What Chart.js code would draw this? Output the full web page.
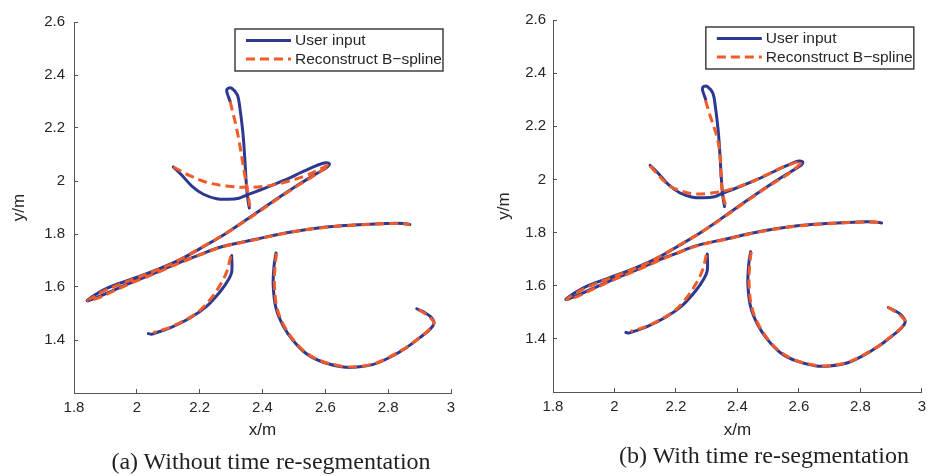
<!DOCTYPE html>
<html>
<head>
<meta charset="utf-8">
<script src="https://cdn.jsdelivr.net/npm/chart.js@4/dist/chart.umd.min.js"></script>
<style>
  body { margin: 0; background: #fff; }
  #wrap { position: relative; width: 936px; height: 476px; overflow: hidden; }
  canvas { position: absolute; top: 0; }
  .caption {
    position: absolute; text-align: center; color: #231f20;
    font: 24px/1 "Liberation Serif", "Times New Roman", serif; white-space: nowrap;
  }
</style>
</head>
<body>
<div id="wrap">
  <canvas id="chartA" width="468" height="476" style="left:0"></canvas>
  <canvas id="chartB" width="468" height="476" style="left:468px"></canvas>
  <div class="caption" style="left:71px; width:400px; top:449px">(a) Without time re-segmentation</div>
  <div class="caption" style="left:564px; width:400px; top:443px">(b) With time re-segmentation</div>
</div>
<script>
// stroke samples of the handwritten character, [x, y] in metres
const userVertical = [[2.297, 2.300], [2.286, 2.340], [2.291, 2.350], [2.302, 2.350], [2.320, 2.325],
  [2.328, 2.276], [2.337, 2.189], [2.342, 2.115], [2.347, 2.016], [2.352, 1.942], [2.358, 1.898]];
const userTopArc = [[2.116, 2.053], [2.143, 2.022], [2.175, 1.981], [2.212, 1.950], [2.254, 1.933],
  [2.290, 1.931], [2.325, 1.935], [2.352, 1.948], [2.402, 1.970], [2.466, 2.001], [2.530, 2.036],
  [2.572, 2.058], [2.600, 2.069], [2.613, 2.065], [2.603, 2.050]];
const userSweep = [[2.572, 2.028], [2.509, 1.982], [2.445, 1.932], [2.371, 1.872], [2.286, 1.804],
  [2.201, 1.745], [2.137, 1.703], [2.074, 1.670], [1.989, 1.632], [1.904, 1.595], [1.861, 1.566],
  [1.842, 1.548], [1.875, 1.562], [1.915, 1.582], [1.989, 1.620], [2.074, 1.661], [2.137, 1.693],
  [2.201, 1.722], [2.265, 1.750], [2.371, 1.778], [2.477, 1.805], [2.583, 1.824], [2.689, 1.834],
  [2.795, 1.840], [2.848, 1.840], [2.869, 1.836]];
const userLeftFall = [[2.302, 1.719], [2.302, 1.657], [2.291, 1.626], [2.265, 1.582], [2.222, 1.527],
  [2.169, 1.483], [2.106, 1.446], [2.063, 1.428], [2.047, 1.422], [2.037, 1.424]];
const userRightCurve = [[2.443, 1.728], [2.437, 1.682], [2.434, 1.607], [2.443, 1.520], [2.466, 1.453],
  [2.498, 1.397], [2.541, 1.347], [2.593, 1.316], [2.657, 1.298], [2.700, 1.298], [2.753, 1.308],
  [2.806, 1.335], [2.859, 1.372], [2.901, 1.409], [2.933, 1.440], [2.946, 1.465], [2.933, 1.490],
  [2.912, 1.506], [2.891, 1.518]];

// reconstructed B-spline, without re-segmentation
const splineVerticalA = [[2.297, 2.300], [2.316, 2.207], [2.328, 2.133], [2.341, 2.040], [2.350, 1.979], [2.360, 1.902]];
const splineTopArcA = [[2.116, 2.053], [2.169, 2.020], [2.222, 1.995], [2.286, 1.981], [2.350, 1.976],
  [2.413, 1.981], [2.477, 1.997], [2.541, 2.022], [2.583, 2.045], [2.613, 2.063]];
// reconstructed B-spline, with re-segmentation
const splineVerticalB = [[2.296, 2.298], [2.312, 2.237], [2.333, 2.162], [2.344, 2.088], [2.347, 2.001], [2.352, 1.946], [2.362, 1.900]];
const splineTopArcB = [[2.116, 2.051], [2.171, 1.983], [2.203, 1.962], [2.256, 1.946], [2.309, 1.948],
  [2.362, 1.958], [2.436, 1.986], [2.500, 2.020], [2.563, 2.053], [2.608, 2.066]];
// strokes that come out the same either way
const splineSweep = [[2.572, 2.026], [2.509, 1.980], [2.445, 1.930], [2.371, 1.870], [2.286, 1.804],
  [2.201, 1.746], [2.137, 1.703], [2.074, 1.668], [1.989, 1.630], [1.904, 1.590], [1.861, 1.562],
  [1.845, 1.548], [1.880, 1.560], [1.915, 1.579], [1.989, 1.618], [2.074, 1.659], [2.137, 1.691],
  [2.201, 1.721], [2.265, 1.749], [2.371, 1.777], [2.477, 1.804], [2.583, 1.823], [2.689, 1.833],
  [2.795, 1.839], [2.848, 1.839], [2.869, 1.835]];
const splineLeftFall = [[2.299, 1.716], [2.286, 1.657], [2.265, 1.607], [2.233, 1.552], [2.191, 1.502],
  [2.137, 1.465], [2.095, 1.443], [2.052, 1.428]];
const splineRightCurve = [[2.445, 1.728], [2.440, 1.680], [2.438, 1.607], [2.446, 1.522], [2.468, 1.455],
  [2.500, 1.398], [2.541, 1.350], [2.593, 1.318], [2.657, 1.300], [2.700, 1.299], [2.753, 1.310],
  [2.806, 1.337], [2.859, 1.373], [2.901, 1.410], [2.933, 1.442], [2.946, 1.465], [2.930, 1.488],
  [2.910, 1.505], [2.888, 1.520]];

const seriesNames = ['User input', 'Reconstruct B\u2212spline'];
const xTickValues = [1.8, 2, 2.2, 2.4, 2.6, 2.8, 3];
const xTickLabels = ['1.8', '2', '2.2', '2.4', '2.6', '2.8', '3'];
const yTickValues = [1.4, 1.6, 1.8, 2, 2.2, 2.4, 2.6];
const yTickLabels = ['1.4', '1.6', '1.8', '2', '2.2', '2.4', '2.6'];

const userColor = '#2b3990';
const splineColor = '#f15a29';
const axisColor = '#555';
const textColor = '#262626';
const splineDash = [9, 5];

Chart.defaults.font.family = '"Liberation Sans", Arial, sans-serif';

const userStrokes = [userVertical, userTopArc.concat(userSweep), userLeftFall, userRightCurve];

function buildDatasets(splineStrokes) {
  const sets = [];
  // dashed spline goes on top (lower order is drawn last)
  splineStrokes.forEach(s => sets.push({
    label: seriesNames[1], data: s, borderColor: splineColor, borderDash: splineDash,
    borderCapStyle: 'butt', order: 0,
  }));
  userStrokes.forEach(s => sets.push({
    label: seriesNames[0], data: s, borderColor: userColor, borderCapStyle: 'round', order: 1,
  }));
  return sets.map(d => Object.assign({
    showLine: true, pointRadius: 0, borderWidth: 3, tension: 0.35, borderJoinStyle: 'round', fill: false,
  }, d));
}

// boxed legend in the top right corner of the plot area
const boxedLegend = {
  id: 'boxedLegend',
  afterDraw(chart) {
    const { ctx, chartArea } = chart;
    const w = 208, h = 42;
    const left = chartArea.right - 8 - w, top = chartArea.top + 7;
    ctx.save();
    ctx.fillStyle = '#fff';
    ctx.fillRect(left, top, w, h);
    ctx.strokeStyle = '#222';
    ctx.lineWidth = 1.3;
    ctx.strokeRect(left, top, w, h);
    const styles = [
      { color: userColor, dash: [] },
      { color: splineColor, dash: splineDash },
    ];
    styles.forEach((st, i) => {
      const y = top + 11.5 + i * 18.6;
      ctx.beginPath();
      ctx.setLineDash(st.dash);
      ctx.strokeStyle = st.color;
      ctx.lineWidth = 3;
      ctx.moveTo(left + 11, y);
      ctx.lineTo(left + 56, y);
      ctx.stroke();
      ctx.setLineDash([]);
      ctx.fillStyle = textColor;
      ctx.font = '15.5px "Liberation Sans", Arial, sans-serif';
      ctx.textBaseline = 'middle';
      ctx.fillText(seriesNames[i], left + 60, y + 0.5);
    });
    ctx.restore();
  },
};

function makePanel(id, splineStrokes, geo) {
  new Chart(document.getElementById(id), {
    type: 'scatter',
    data: { datasets: buildDatasets(splineStrokes) },
    options: {
      responsive: false,
      animation: false,
      layout: { padding: { left: 0, top: 15, right: geo.padRight, bottom: geo.padBottom } },
      plugins: { legend: { display: false }, tooltip: { enabled: false } },
      scales: {
        x: {
          type: 'linear', min: 1.8, max: 3,
          afterBuildTicks: s => { s.ticks = xTickValues.map(v => ({ value: v })); },
          afterFit: s => { s.height = 50; },
          ticks: {
            callback: v => xTickLabels[xTickValues.indexOf(v)],
            font: { size: 15 }, color: textColor, padding: 10, maxRotation: 0, autoSkip: false,
          },
          grid: { drawOnChartArea: false, drawTicks: true, tickLength: -4, color: axisColor },
          border: { color: axisColor, width: 1 },
          title: { display: true, text: 'x/m', font: { size: 17 }, color: textColor, padding: { top: 0, bottom: geo.xTitlePad } },
        },
        y: {
          type: 'linear', min: 1.2, max: 2.6,
          afterBuildTicks: s => { s.ticks = yTickValues.map(v => ({ value: v })); },
          afterFit: s => { s.width = geo.yAxisWidth; },
          ticks: {
            callback: v => yTickLabels[yTickValues.indexOf(v)],
            font: { size: 15 }, color: textColor, padding: geo.yTickPad, autoSkip: false,
          },
          grid: { drawOnChartArea: false, drawTicks: true, tickLength: -4, color: axisColor },
          border: { color: axisColor, width: 1 },
          title: { display: true, text: 'y/m', font: { size: 17 }, color: textColor, padding: { top: geo.yTitlePad, bottom: 0 } },
        },
      },
    },
    plugins: [boxedLegend],
  });
}

makePanel('chartA', [splineVerticalA, splineTopArcA.concat(splineSweep), splineLeftFall, splineRightCurve],
  { yAxisWidth: 74, padRight: 17, padBottom: 33, xTitlePad: 2, yTitlePad: 9, yTickPad: 13 });
makePanel('chartB', [splineVerticalB, splineTopArcB.concat(splineSweep), splineLeftFall, splineRightCurve],
  { yAxisWidth: 85, padRight: 5, padBottom: 34, xTitlePad: 1, yTitlePad: 26, yTickPad: 11 });
</script>
</body>
</html>
